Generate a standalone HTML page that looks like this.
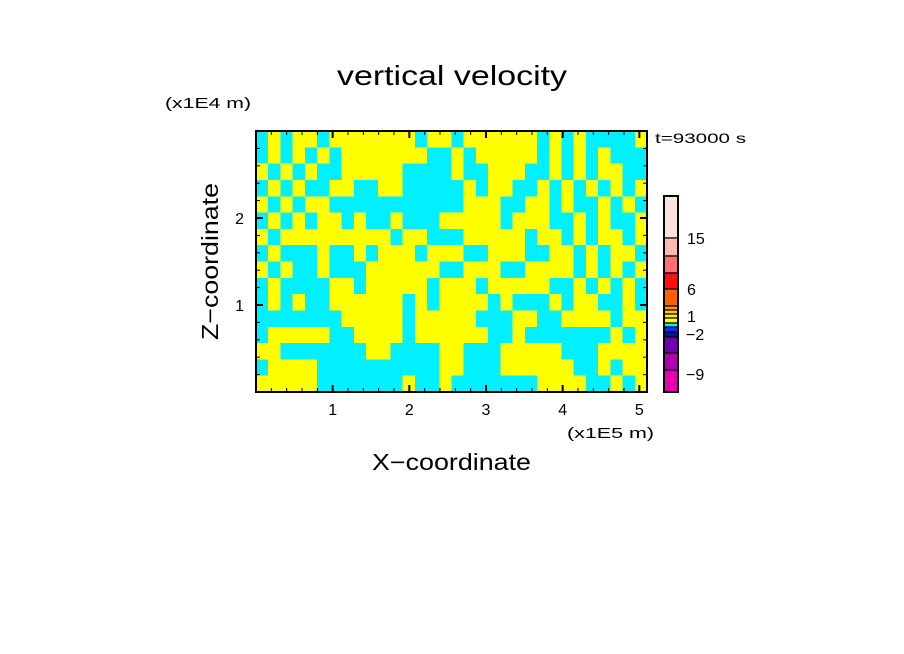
<!DOCTYPE html>
<html><head><meta charset="utf-8"><style>
html,body{margin:0;padding:0;background:#fff;}
svg{display:block;font-family:"Liberation Sans",sans-serif;}
</style></head><body>
<svg id="chart" width="904" height="654" viewBox="0 0 904 654" xmlns="http://www.w3.org/2000/svg">
<rect width="904" height="654" fill="#fff"/>
<text x="337" y="85" font-size="28" textLength="230" lengthAdjust="spacingAndGlyphs" fill="#000">vertical velocity</text>
<text x="165" y="108" font-size="15" textLength="86" lengthAdjust="spacingAndGlyphs" fill="#000">(x1E4 m)</text>
<text x="655" y="143" font-size="14" textLength="91" lengthAdjust="spacingAndGlyphs" fill="#000">t=93000 s</text>
<text x="567" y="438" font-size="15" textLength="87" lengthAdjust="spacingAndGlyphs" fill="#000">(x1E5 m)</text>
<text x="372" y="470" font-size="23" textLength="159" lengthAdjust="spacingAndGlyphs" fill="#000">X−coordinate</text>
<text x="0" y="0" font-size="23" textLength="157" lengthAdjust="spacingAndGlyphs" fill="#000" transform="translate(218,340) rotate(-90)">Z−coordinate</text>
<g id="field" shape-rendering="crispEdges"></g>
<g id="axes"></g>
<g id="cbar"></g>
</svg>
<script>
// grid of sign of vertical velocity (Y = updraft/yellow level, C = downdraft/cyan level), top row first
const fieldRows = [
"CYCYYCYYYYYYYCYYCYYYYYYCYCYCCCCY",
"CYCYCYCYYYYYYYCCYCYYYYYCYCYCYCCC",
"YCYCYCCYYYYYCCCCYCCYYYCCYCYCYYCC",
"CYCYCCYYCCYYCCCCCYCYYCCYCYCYCYCY",
"YCYCYYCCCCCCCCCCCYYYCCYYCYCCYCYC",
"CYCYCYYCYCCYCCCYYYYYCYYYCCYCYCCY",
"YCYYYYYYYYYCYYCCCYYYYYCYYCYCYYCY",
"CYCCCYCCYCYYYCYYYCCYYYCCYYCYCYYC",
"YCYCCYCCCYYYYYYCCYYYCCYYYYCYCYCY",
"CYCCCCYYCYYYYYCYYYCYYYYYCCYCYCYC",
"CYCYCCYYYYYYCYCYYYYCYCCCYCYYCCYC",
"CCCCCCCYYYYYCYYYYYCCCYYCCYYYYCYY",
"CYYYYYCCYYYYCYYYYYYCCYCCCCCCCYCY",
"YYCCCCCCCYYCCCCYYCCCYYYYYCCCYYYY",
"CYYYYCCCCCCCCCCYYCCCYYYYYYCCYCYY",
"YYYYYCCCCCCCYCCYCCCCCCCYYYYCCYCY"
];
const xTicks = [1,2,3,4,5];
const yTicks = [1,2];
const cbarLevels = [15,6,1,-2,-9];
const cbarColors = ["#ffe0e0","#ffb8b8","#ff7070","#ff1010","#ff6000","#ff9900","#ffcc00","#ffee00","#ffff00","#00f0ff","#0030ff","#1010a0","#7000b0","#b000b0","#e800b0"];
const cbarEdges = [196,238,256,273,289,306,310,314,318,323,327,332,337,353,370,392];

const NS="http://www.w3.org/2000/svg";
const X0=256,X1=647,Y0=131,Y1=392;
const xMax=5.1, yMax=3.0;
const sx=v=>X0+(v/xMax)*(X1-X0);
const sy=v=>Y1-(v/yMax)*(Y1-Y0);
function mk(tag,attrs,parent){const e=document.createElementNS(NS,tag);for(const k in attrs)e.setAttribute(k,attrs[k]);parent.appendChild(e);return e;}

const field=document.getElementById('field');
const nr=fieldRows.length, nc=32;
for(let r=0;r<nr;r++){
  for(let c=0;c<nc;c++){
    const ch=fieldRows[r][c]||'C';
    const x0=sx(c*xMax/nc), x1=sx((c+1)*xMax/nc);
    const y0=sy(yMax-r*yMax/nr), y1=sy(yMax-(r+1)*yMax/nr);
    const e=mk('rect',{x:x0,y:y0,width:x1-x0+0.5,height:y1-y0+0.5,fill:ch==='Y'?'#ffff00':'#00f0ff'},field);
    
    
  }
}

const axes=document.getElementById('axes');
const frame=mk('rect',{x:X0,y:Y0,width:X1-X0,height:Y1-Y0,fill:'none',stroke:'#000','stroke-width':2},axes);


for(let i=1;i<xMax/0.2;i++){
  const v=i*0.2, x=sx(v), major=Math.abs(v-Math.round(v))<1e-6;
  const L=major?7:4;
  mk('line',{x1:x,y1:Y1,x2:x,y2:Y1-L,stroke:'#000','stroke-width':major?2:1},axes);
  mk('line',{x1:x,y1:Y0,x2:x,y2:Y0+L,stroke:'#000','stroke-width':major?2:1},axes);
}
for(let i=1;i<yMax/0.2;i++){
  const v=i*0.2, y=sy(v), major=Math.abs(v-Math.round(v))<1e-6;
  const L=major?7:4;
  mk('line',{x1:X0,y1:y,x2:X0+L,y2:y,stroke:'#000','stroke-width':major?2:1},axes);
  mk('line',{x1:X1,y1:y,x2:X1-L,y2:y,stroke:'#000','stroke-width':major?2:1},axes);
}
xTicks.forEach(v=>{
  const t=mk('text',{x:sx(v),y:415,'font-size':16,'text-anchor':'middle'},axes);
  t.textContent=v;
  
  
});
yTicks.forEach(v=>{
  const t=mk('text',{x:244,y:sy(v)+6,'font-size':16,'text-anchor':'end'},axes);
  t.textContent=v;
  
  
});

const cbar=document.getElementById('cbar');
for(let i=0;i<cbarColors.length;i++){
  const e=mk('rect',{x:664,y:cbarEdges[i],width:14,height:cbarEdges[i+1]-cbarEdges[i],fill:cbarColors[i],stroke:'#000','stroke-width':1.2},cbar);
  
  
}
mk('rect',{x:664,y:196,width:14,height:196,fill:'none',stroke:'#000','stroke-width':2},cbar);
const cbarLabelY=[244,295,322,340,380];
cbarLevels.forEach((v,i)=>{
  const t=mk('text',{x:v<0?686:687,y:cbarLabelY[i],'font-size':16},cbar);
  t.textContent=v<0?'−'+Math.abs(v):v;
  
  
});
</script>
</body></html>
